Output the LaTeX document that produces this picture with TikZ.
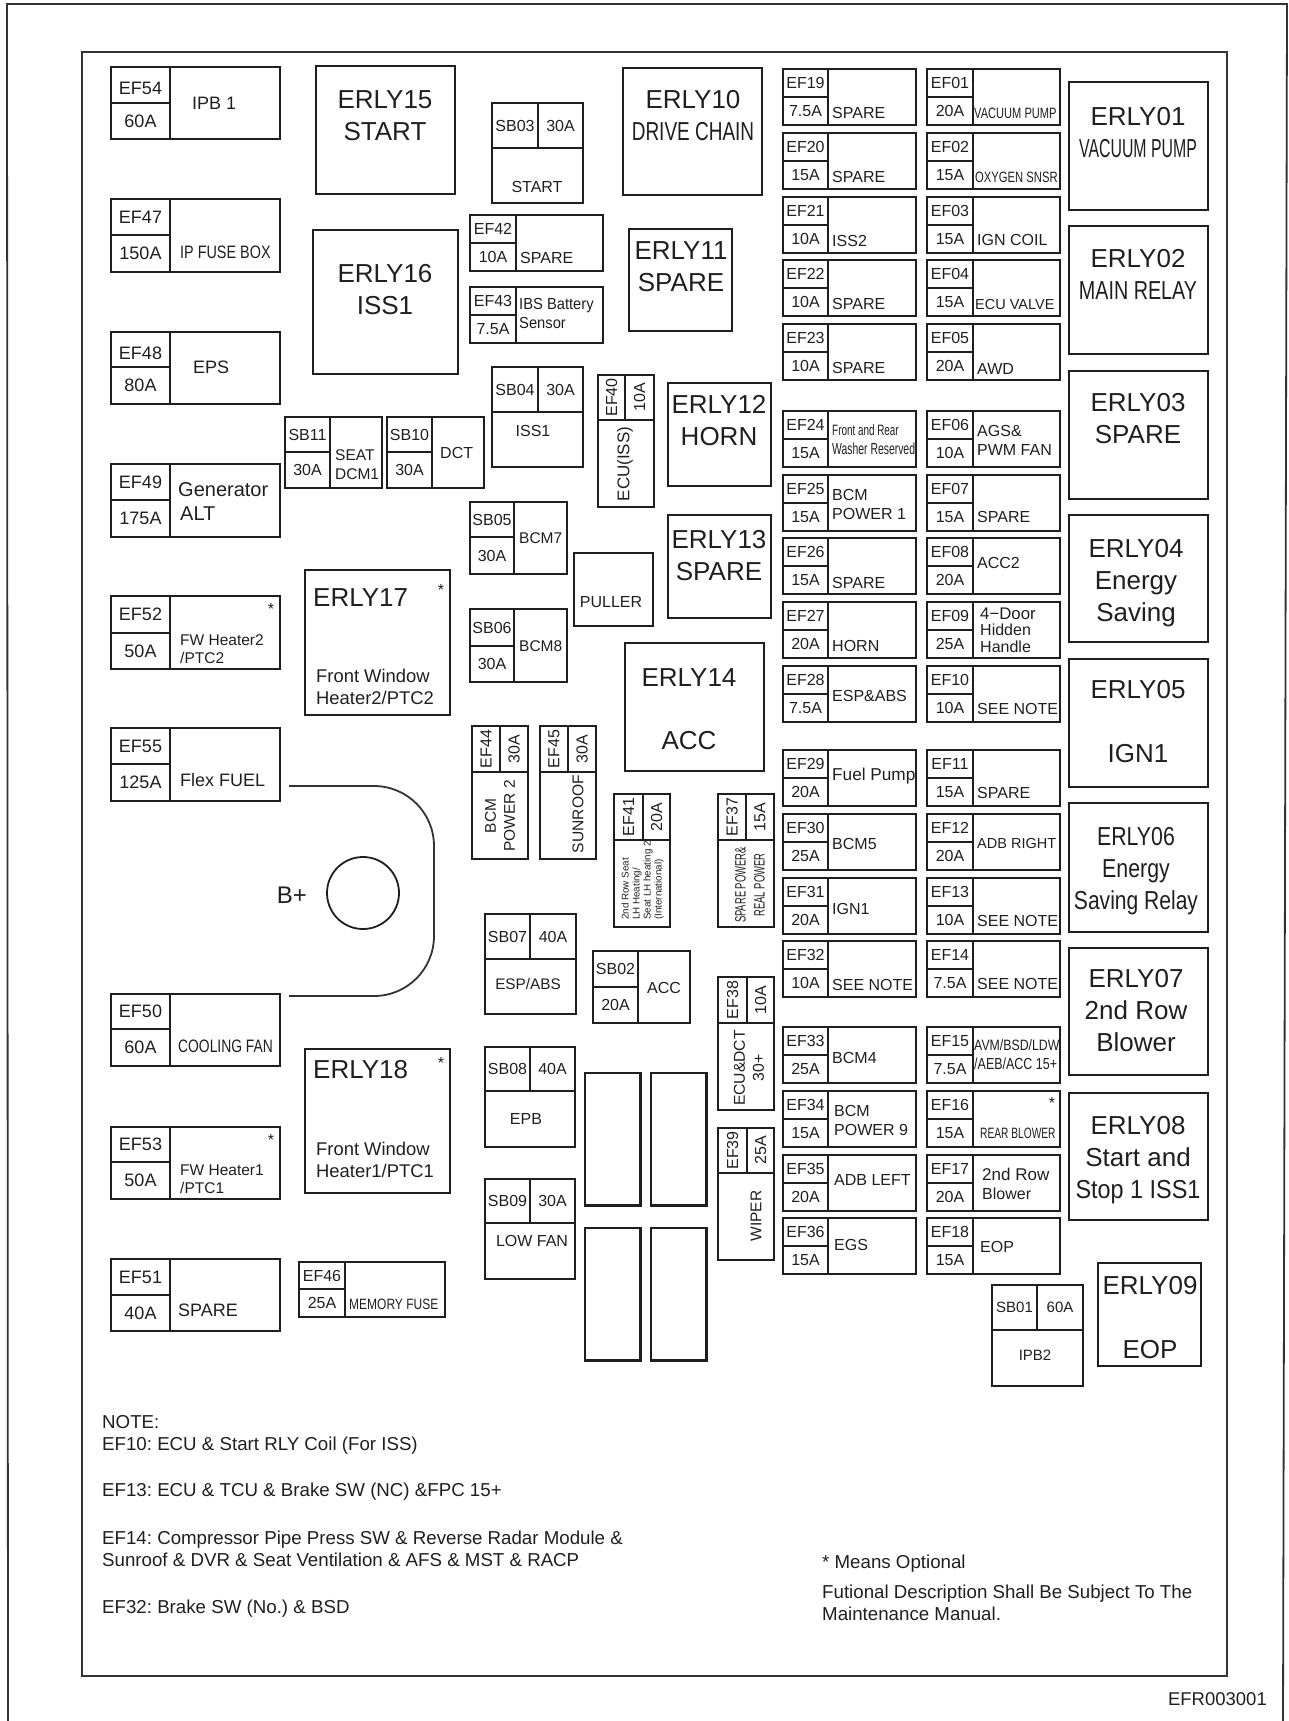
\documentclass[tikz,border=0pt]{standalone}
\usepackage{fontspec}
\setmainfont{Liberation Sans}
\usepackage{xcolor}
\usetikzlibrary{calc}
\definecolor{ink}{HTML}{1F1F1F}
\definecolor{frameline}{HTML}{333333}
\newcommand{\nw}[2]{\scalebox{#1}[1]{#2}}
\newcommand{\fz}[2]{\fontsize{#1}{#2}\selectfont}
% fuse with the two cells stacked on the left
\newcommand{\fuseh}[9][]{%
  \draw[boxline] (#2,#3) rectangle (#4,#5) (#6,#3) -- (#6,#5) (#2,#7) -- (#6,#7);
  \node[cellt,#1,idcell] (#8) at ($(#2,#3)!.5!(#6,#7)$) {#8};
  \node[cellt,#1] (#8a) at ($(#2,#7)!.5!(#6,#5)$) {#9};
}
% fuse with the two cells side by side on top
\newcommand{\fusev}[9][]{%
  \draw[boxline] (#2,#3) rectangle (#4,#5) (#2,#7) -- (#4,#7) (#6,#3) -- (#6,#7);
  \node[cellt,#1] (#8) at ($(#2,#3)!.5!(#6,#7)$) {#8};
  \node[cellt,#1] (#8a) at ($(#6,#3)!.5!(#4,#7)$) {#9};
}
\newcommand{\erly}[9][]{%
  \draw[boxline] (#2,#3) rectangle (#4,#5);
  \node[rlyt,#1] (#6) at (#7,#8) {#9};
}
\begin{document}
\frenchspacing
\begin{tikzpicture}[x=1pt,y=-1pt,
  boxline/.style={draw=ink,line width=2.3pt,line join=miter},
  frame/.style={draw=frameline,line width=1.8pt},
  cellt/.style={inner sep=0pt,text=ink,font=\fz{16}{19}},
  idcell/.style={},
  bigc/.style={font=\fz{18}{21}},
  lab/.style={inner sep=0pt,anchor=west,align=left,text=ink,font=\fz{16}{19}},
  labc/.style={inner sep=0pt,align=center,text=ink,font=\fz{16}{19}},
  rlyt/.style={inner sep=0pt,align=center,text=ink,font=\fz{26}{32}},
  notet/.style={inner sep=0pt,anchor=west,text=ink,font=\fz{18.7}{22}},
  optm/.style={inner sep=0pt,anchor=base,text=ink,font=\fz{16}{19}}]
\useasboundingbox (0,0) rectangle (1289,1721);
\draw[frame] (8,1721) -- (7,4) -- (1287,4) -- (1283,1721);
\draw[frame] (82,52) rectangle (1227,1676);

% left column
\begin{scope}[idcell/.style={yshift=-3.5pt}]
\fuseh[bigc]{111}{67}{280}{139}{170}{103}{EF54}{60A}
\fuseh[bigc]{111}{332}{280}{404}{170}{367}{EF48}{80A}
\end{scope}
\node[lab,font=\fz{18}{21}] (LEF54) at (192,103) {IPB 1};
\fuseh[bigc]{111}{199}{280}{272}{170}{235}{EF47}{150A}
\node[lab,font=\fz{18}{21}] (LEF47) at (180,252) {\nw{.8}{IP FUSE BOX}};
\node[lab,font=\fz{18}{21}] (LEF48) at (193,367) {EPS};
\fuseh[bigc]{111}{464}{280}{537}{170}{500}{EF49}{175A}
\node[lab,font=\fz{20}{24}] (LEF49) at (178,502) {Generator\\\hspace*{2pt}ALT};
\fuseh[bigc]{111}{596}{280}{669}{170}{633}{EF52}{50A}
\node[lab,font=\fz{15.5}{18}] (LEF52) at (180,649) {FW Heater2\\/PTC2};
\node[optm] (optEF52) at (271,614) {*};
\fuseh[bigc]{111}{728}{280}{801}{170}{764}{EF55}{125A}
\node[lab,font=\fz{18}{21}] (LEF55) at (180,780) {Flex FUEL};
\fuseh[bigc]{111}{994}{280}{1066}{170}{1029}{EF50}{60A}
\node[lab,font=\fz{18}{21}] (LEF50) at (178,1046) {\nw{.77}{COOLING FAN}};
\fuseh[bigc]{111}{1127}{280}{1199}{170}{1162}{EF53}{50A}
\node[lab,font=\fz{15.5}{18}] (LEF53) at (180,1179) {FW Heater1\\/PTC1};
\node[optm] (optEF53) at (271,1145) {*};
\fuseh[bigc]{111}{1259}{280}{1331}{170}{1295}{EF51}{40A}
\node[lab,font=\fz{18}{21}] (LEF51) at (178,1310) {SPARE};
\fuseh{299}{1262}{445}{1317}{345}{1289}{EF46}{25A}
\node[lab,font=\fz{15}{18}] (LEF46) at (349,1304) {\nw{.8}{MEMORY FUSE}};

% B+ terminal
\draw[frame,rounded corners=60pt] (289,786) -- (434,786) -- (434,996) -- (289,996);
\node[draw=ink,line width=1.8pt,circle,minimum size=72pt,inner sep=0pt] (bplus) at (363,893) {};
\node[inner sep=0pt,text=ink,font=\fz{24}{28}] (bplusl) at (292,895) {B+};

% relays, left half
\erly{316}{66}{455}{194}{ERLY15}{385}{116}{ERLY15\\START}
\erly{313}{230}{458}{374}{ERLY16}{385}{290}{ERLY16\\ISS1}
\erly{305}{570}{450}{715}{ERLY17}{0}{0}{}
\node[lab,font=\fz{26}{32}] (ERLY17t) at (313,598) {ERLY17};
\node[lab,font=\fz{18.4}{22}] (ERLY17l) at (316,687) {Front Window\\Heater2/PTC2};
\node[optm] (optERLY17) at (441,595) {*};
\erly{305}{1049}{450}{1193}{ERLY18}{0}{0}{}
\node[lab,font=\fz{26}{32}] (ERLY18t) at (313,1070) {ERLY18};
\node[lab,font=\fz{18.4}{22}] (ERLY18l) at (316,1160) {Front Window\\Heater1/PTC1};
\node[optm] (optERLY18) at (441,1068) {*};
\erly{623}{68}{762}{195}{ERLY10}{693}{116}{ERLY10\\\nw{.73}{DRIVE CHAIN}}
\erly{629}{229}{732}{331}{ERLY11}{681}{267}{ERLY11\\SPARE}
\erly{668}{383}{771}{486}{ERLY12}{719}{421}{ERLY12\\HORN}
\erly{668}{515}{771}{618}{ERLY13}{719}{556}{ERLY13\\SPARE}
\erly{625}{643}{764}{771}{ERLY14}{689}{678}{ERLY14}
\node[rlyt] (ERLY14l) at (689,741) {ACC};

% small fuses, middle
\fuseh{285}{417}{382}{488}{330}{452}{SB11}{30A}
\node[lab,font=\fz{15.5}{19}] (LSB11) at (335,465) {SEAT\\DCM1};
\fuseh{387}{417}{484}{488}{432}{452}{SB10}{30A}
\node[lab] (LSB10) at (440,453) {DCT};
\fusev{492}{103}{583}{203}{538}{148}{SB03}{30A}
\node[labc] (LSB03) at (537,187) {START};
\fuseh{470}{215}{603}{271}{516}{243}{EF42}{10A}
\node[lab] (LEF42) at (520,258) {SPARE};
\fuseh{470}{287}{603}{343}{516}{315}{EF43}{7.5A}
\node[lab,font=\fz{16}{19}] (LEF43) at (519,313) {\nw{.92}{IBS Battery}\\\nw{.92}{Sensor}};
\fusev{492}{367}{583}{467}{538}{412}{SB04}{30A}
\node[labc] (LSB04) at (533,431) {ISS1};
\fusev[rotate=90]{598}{375}{654}{507}{625}{420}{EF40}{10A}
\node[labc,rotate=90,font=\fz{17}{20}] (LEF40) at (625,464) {ECU(ISS)};
\fuseh{470}{502}{567}{574}{514}{537}{SB05}{30A}
\node[lab,font=\fz{15.5}{19}] (LSB05) at (519,538) {BCM7};
\fuseh{470}{609}{567}{682}{514}{646}{SB06}{30A}
\node[lab,font=\fz{15.5}{19}] (LSB06) at (519,646) {BCM8};
\draw[boxline] (574,553) rectangle (653,626);
\node[labc] (puller) at (611,602) {PULLER};
\fusev[rotate=90]{472}{726}{528}{859}{500}{772}{EF44}{30A}
\node[labc,rotate=90,font=\fz{15.5}{19}] (LEF44) at (500,816) {BCM\\POWER 2};
\fusev[rotate=90]{540}{726}{596}{859}{568}{772}{EF45}{30A}
\node[labc,rotate=90,font=\fz{15.6}{19}] (LEF45) at (578,814) {SUNROOF};
\fusev[rotate=90]{614}{794}{670}{927}{643}{840}{EF41}{20A}
\node[lab,rotate=90,font=\fz{9.8}{11}] (LEF41) at (642.5,920) {2nd Row Seat\\LH Heating/\\Seat LH heating 2\\(International)};
\fusev[rotate=90]{718}{794}{774}{927}{746}{840}{EF37}{15A}
\node[labc,rotate=90,font=\fz{15}{19}] (LEF37) at (750,885) {\nw{.63}{SPARE POWER\&}\\\nw{.63}{REAL POWER}};
\fusev{485}{914}{576}{1014}{530}{959}{SB07}{40A}
\node[labc,font=\fz{15.3}{19}] (LSB07) at (528,984) {ESP/ABS};
\fuseh{593}{951}{690}{1023}{638}{987}{SB02}{20A}
\node[lab] (LSB02) at (647,988) {ACC};
\fusev[rotate=90]{718}{977}{774}{1110}{747}{1023}{EF38}{10A}
\node[labc,rotate=90,font=\fz{15.7}{19}] (LEF38) at (749,1068) {ECU\&DCT\\30+};
\fusev[rotate=90]{718}{1128}{774}{1260}{747}{1173}{EF39}{25A}
\node[labc,rotate=90,font=\fz{15.5}{19}] (LEF39) at (756,1216) {WIPER};
\fusev{485}{1047}{575}{1147}{530}{1091}{SB08}{40A}
\node[labc] (LSB08) at (526,1119) {EPB};
\fusev{485}{1179}{575}{1279}{530}{1223}{SB09}{30A}
\node[labc] (LSB09) at (532,1241) {LOW FAN};
\foreach \bx/\by in {585/1073,651/1073,585/1228,651/1228}
  \draw[boxline] (\bx,\by) rectangle (\bx+55.5,\by+132.5);

% fuse column EF19..EF36
\foreach \idn/\y/\amp/\tx/\dy/\txt in {
  EF19/69/7.5A/832/44/SPARE, EF20/133/15A/832/44/SPARE, EF21/197/10A/832/44/ISS2,
  EF22/260/10A/832/44/SPARE, EF23/324/10A/832/44/SPARE,
  EF24/411/15A/832/29/{\fz{15}{18}\nw{.66}{Front and Rear}\\\nw{.65}{Washer Reserved}},
  EF25/475/15A/832/29/{BCM\\POWER 1}, EF26/538/15A/832/45/SPARE, EF27/602/20A/832/44/HORN,
  EF28/666/7.5A/832/30/ESP\&ABS, EF29/750/20A/832/26/{\fz{17.2}{20}Fuel Pump},
  EF30/814/25A/832/30/BCM5, EF31/878/20A/832/31/IGN1, EF32/941/10A/832/44/SEE NOTE,
  EF33/1027/25A/832/31/BCM4, EF34/1091/15A/834/29/{BCM\\POWER 9},
  EF35/1155/20A/834/25/ADB LEFT, EF36/1218/15A/834/27/EGS}
{
  \fuseh{783}{\y}{916}{\y+56}{828}{\y+28}{\idn}{\amp}
  \node[lab] (L\idn) at (\tx,\y+\dy) {\txt};
}
% fuse column EF01..EF18
\foreach \idn/\y/\amp/\tx/\dy/\txt in {
  EF01/69/20A/974/44/{\fz{15}{18}\nw{.74}{VACUUM PUMP}}, EF02/133/15A/975/44/{\fz{15}{18}\nw{.75}{OXYGEN SNSR}},
  EF03/197/15A/977/43/IGN COIL, EF04/260/15A/975/45/{\fz{14.5}{18}ECU VALVE}, EF05/324/20A/977/45/AWD,
  EF06/411/10A/977/29/{AGS\&\\PWM FAN}, EF07/475/15A/977/42/SPARE, EF08/538/20A/977/25/ACC2,
  EF09/602/25A/980/28/{\fz{16.8}{16.5}4−Door\\[-2.5pt]Hidden\\[-2.5pt]Handle}, EF10/666/10A/977/43/SEE NOTE,
  EF11/750/15A/977/43/SPARE, EF12/814/20A/977/29/{\fz{14.5}{18}ADB RIGHT}, EF13/878/10A/977/43/SEE NOTE,
  EF14/941/7.5A/977/43/SEE NOTE,
  EF15/1027/7.5A/974/28/{\fz{15}{18}\nw{.82}{AVM/BSD/LDW}\\\nw{.78}{/AEB/ACC 15+}},
  EF16/1091/15A/980/42/{\fz{15}{18}\nw{.68}{REAR BLOWER}},
  EF17/1155/20A/982/29/{\fz{17}{20}2nd Row\\Blower}, EF18/1218/15A/980/29/EOP}
{
  \fuseh{927}{\y}{1060}{\y+56}{973}{\y+28}{\idn}{\amp}
  \node[lab] (L\idn) at (\tx,\y+\dy) {\txt};
}
\node[optm] (optEF16) at (1052,1108) {*};
\fusev[font=\fz{15}{18}]{992}{1285}{1083}{1386}{1037}{1330}{SB01}{60A}
\node[labc,font=\fz{15}{18}] (LSB01) at (1035,1355) {IPB2};

% relays, right column
\erly{1069}{82}{1208}{210}{ERLY01}{1138}{133}{ERLY01\\\nw{.61}{VACUUM PUMP}}
\erly{1069}{226}{1208}{354}{ERLY02}{1138}{274}{ERLY02\\\nw{.76}{MAIN RELAY}}
\erly{1069}{371}{1208}{499}{ERLY03}{1138}{419}{ERLY03\\SPARE}
\erly{1069}{515}{1208}{642}{ERLY04}{1136}{583}{ERLY04\\Energy\\Saving}
\erly{1069}{659}{1208}{787}{ERLY05}{1138}{690}{ERLY05}
\node[rlyt] (ERLY05l) at (1138,754) {IGN1};
\erly{1069}{803}{1208}{932}{ERLY06}{1136}{871}{\nw{.82}{ERLY06}\\\nw{.82}{Energy}\\\nw{.81}{Saving Relay}}
\erly{1069}{948}{1208}{1075}{ERLY07}{1136}{1011}{ERLY07\\2nd Row\\Blower}
\erly{1069}{1093}{1208}{1220}{ERLY08}{1138}{1160}{ERLY08\\Start and\\\nw{.9}{Stop 1 ISS1}}
\erly{1098}{1263}{1201}{1366}{ERLY09}{1150}{1286}{ERLY09}
\node[rlyt] (ERLY09l) at (1150,1350) {EOP};

% notes
\node[notet,align=left] (note1) at (102,1435) {NOTE:\\EF10: ECU \& Start RLY Coil (For ISS)};
\node[notet] (note2) at (102,1492) {EF13: ECU \& TCU \& Brake SW (NC) \&FPC 15+};
\node[notet,align=left] (note3) at (102,1549) {EF14: Compressor Pipe Press SW \& Reverse Radar Module \&\\Sunroof \& DVR \& Seat Ventilation \& AFS \& MST \& RACP};
\node[notet] (note4) at (102,1609) {EF32: Brake SW (No.) \& BSD};
\node[notet] (opt) at (822,1564) {* Means Optional};
\node[notet,align=left] (manual) at (822,1603) {Futional Description Shall Be Subject To The\\Maintenance Manual.};
\node[inner sep=0pt,anchor=east,text=ink,font=\fz{18.5}{22}] (partno) at (1267,1699) {EFR003001};
\end{tikzpicture}
\end{document}
